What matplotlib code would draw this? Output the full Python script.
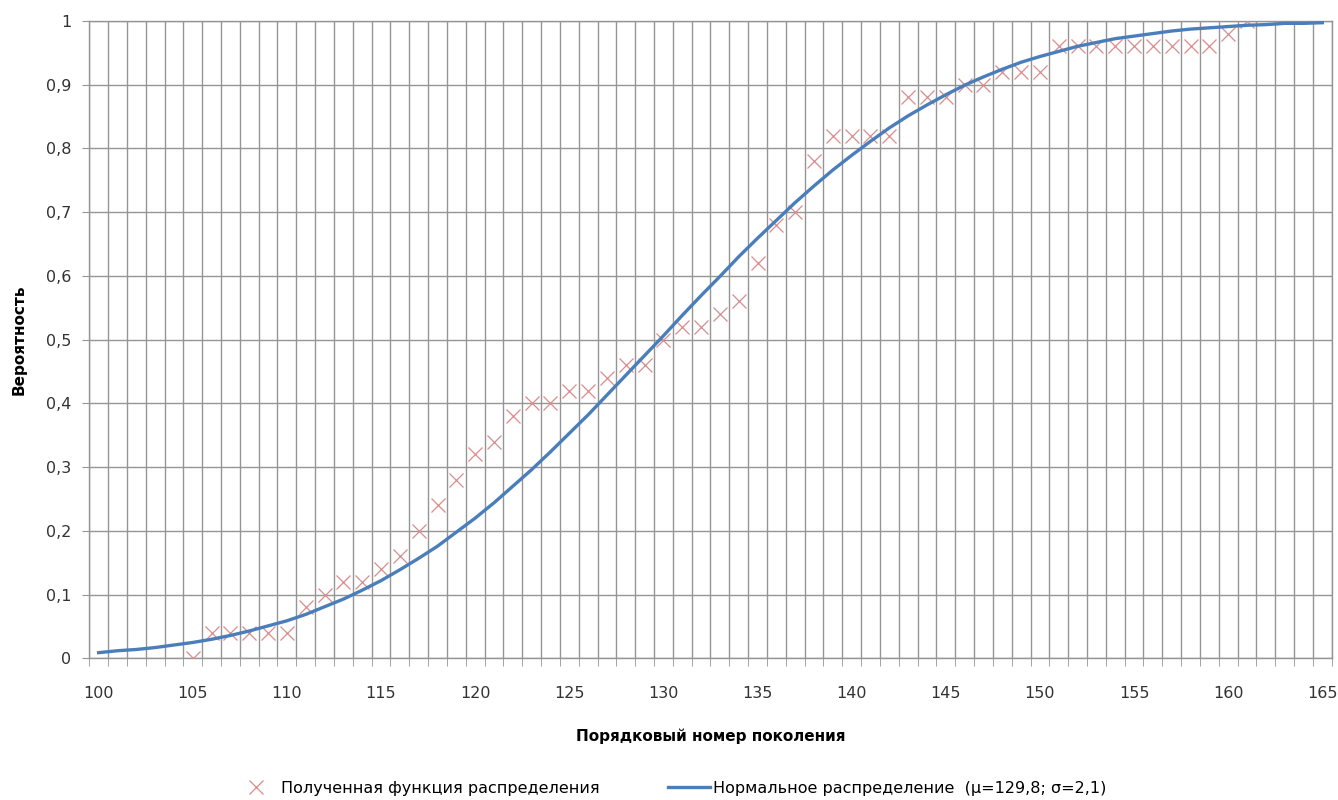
import matplotlib.pyplot as plt
import numpy as np

# observed distribution (generations 105..161)
obs_x = list(range(105, 162))
obs_y = [0.00, 0.04, 0.04, 0.04, 0.04, 0.04, 0.08, 0.10, 0.12, 0.12,
         0.14, 0.16, 0.20, 0.24, 0.28, 0.32, 0.34, 0.38, 0.40, 0.40,
         0.42, 0.42, 0.44, 0.46, 0.46, 0.50, 0.52, 0.52, 0.54, 0.56,
         0.62, 0.68, 0.70, 0.78, 0.82, 0.82, 0.82, 0.82, 0.88, 0.88,
         0.88, 0.90, 0.90, 0.92, 0.92, 0.92, 0.96, 0.96, 0.96, 0.96,
         0.96, 0.96, 0.96, 0.96, 0.96, 0.98, 1.00]

# normal curve (generations 100..165)
norm_x = list(range(100, 166))
norm_y = [0.009, 0.012, 0.014, 0.017, 0.021, 0.025, 0.030, 0.036, 0.043, 0.051,
          0.059, 0.069, 0.081, 0.093, 0.107, 0.122, 0.139, 0.157, 0.176, 0.198,
          0.220, 0.244, 0.270, 0.296, 0.324, 0.353, 0.382, 0.413, 0.444, 0.475,
          0.506, 0.538, 0.569, 0.599, 0.630, 0.659, 0.687, 0.715, 0.741, 0.766,
          0.789, 0.811, 0.832, 0.851, 0.868, 0.884, 0.899, 0.912, 0.924, 0.935,
          0.944, 0.952, 0.960, 0.966, 0.972, 0.976, 0.980, 0.984, 0.987, 0.989,
          0.991, 0.993, 0.994, 0.996, 0.996, 0.997]

y_ticks = [0, 0.1, 0.2, 0.3, 0.4, 0.5, 0.6, 0.7, 0.8, 0.9, 1]
y_labels = ['0', '0,1', '0,2', '0,3', '0,4', '0,5', '0,6', '0,7', '0,8', '0,9', '1']
x_ticks = list(range(100, 166, 5))

grid_c = '#959595'

fig = plt.figure(figsize=(13.38, 8), dpi=100)
ax = fig.add_axes([0.0667, 0.177, 0.9286, 0.797])

ax.plot(obs_x, obs_y, linestyle='none', marker='x', markersize=10.5,
        markeredgewidth=0.9, color='#d98c8c', label='Полученная функция распределения', zorder=3)
ax.plot(norm_x, norm_y, color='#4a7ebb', lw=2.4,
        label='Нормальное распределение  (μ=129,8; σ=2,1)', zorder=4)

ax.set_xlim(99.5, 165.5)
ax.set_ylim(0, 1)
ax.set_xticks(x_ticks)
ax.set_xticks(np.arange(99.5, 166, 1), minor=True)
ax.set_yticks(y_ticks)
ax.set_yticklabels(y_labels)
ax.tick_params(axis='x', which='major', length=0, pad=20, labelsize=11.5, labelcolor='#333333')
ax.tick_params(axis='x', which='minor', length=6, color=grid_c, direction='out')
ax.tick_params(axis='y', which='major', length=5, color=grid_c, pad=8, labelsize=11.5, labelcolor='#333333')
ax.grid(True, which='minor', axis='x', color=grid_c, lw=1)
ax.grid(True, which='major', axis='y', color=grid_c, lw=1)
for s in ax.spines.values():
    s.set_color(grid_c)
    s.set_linewidth(1)

ax.set_xlabel('Порядковый номер поколения', fontsize=11, fontweight='bold', labelpad=20)
ax.set_ylabel('Вероятность', fontsize=11, fontweight='bold', labelpad=14)

fig.legend(loc='center', bbox_to_anchor=(0.5015, 0.015), ncol=2, frameon=False,
           fontsize=11.5, handlelength=2.6, columnspacing=4.3, handletextpad=0.25)

fig.savefig('out.png', dpi=100)
